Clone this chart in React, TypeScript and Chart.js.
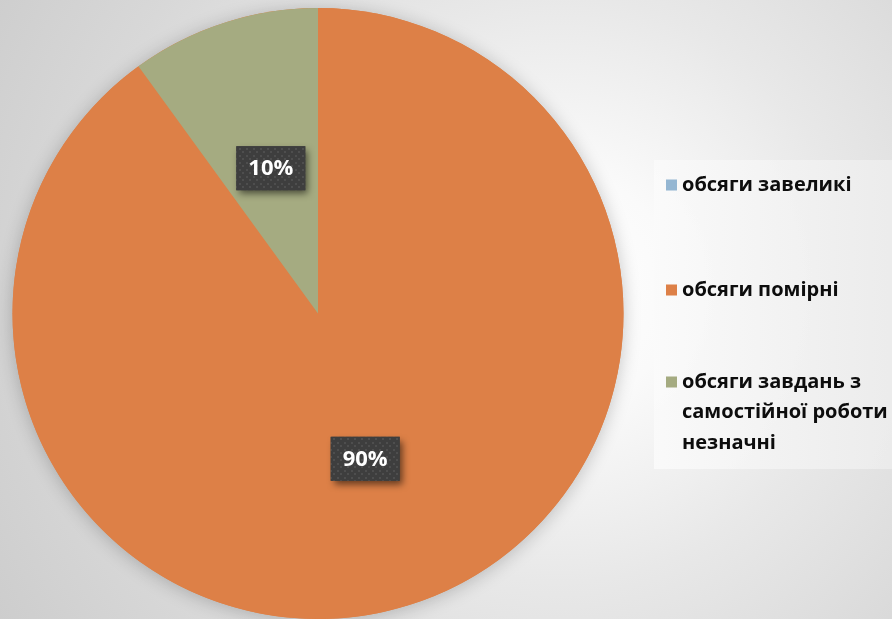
import React, { useEffect, useRef } from "react";
import { Chart, registerables } from "chart.js";

Chart.register(...registerables);

const categories: string[] = [
  "обсяги завеликі",
  "обсяги помірні",
  "обсяги завдань з самостійної роботи незначні",
];
const seriesValues: number[] = [0, 90, 10];
const sliceColors: string[] = ["#94B6D2", "#DD8047", "#A5AB81"];

const FONT = "'Open Sans', 'Noto Sans', 'DejaVu Sans', sans-serif";

function wrapText(ctx: CanvasRenderingContext2D, text: string, maxW: number): string[] {
  const words = text.split(" ");
  const lines: string[] = [];
  let cur = "";
  for (const w of words) {
    const test = cur ? cur + " " + w : w;
    if (ctx.measureText(test).width > maxW && cur) {
      lines.push(cur);
      cur = w;
    } else {
      cur = test;
    }
  }
  if (cur) lines.push(cur);
  return lines;
}

const pieShadowPlugin = {
  id: "pieShadow",
  beforeDatasetsDraw(chart: any) {
    const meta = chart.getDatasetMeta(0);
    const arc = meta.data[0];
    if (!arc) return;
    const ctx: CanvasRenderingContext2D = chart.ctx;
    ctx.save();
    ctx.shadowColor = "rgba(0,0,0,0.22)";
    ctx.shadowBlur = 18;
    ctx.shadowOffsetX = 0;
    ctx.shadowOffsetY = 2;
    ctx.fillStyle = sliceColors[1];
    ctx.beginPath();
    ctx.arc(arc.x, arc.y, arc.outerRadius, 0, Math.PI * 2);
    ctx.fill();
    ctx.restore();
  },
};

let patternCache: CanvasPattern | null = null;
function getPattern(ctx: CanvasRenderingContext2D): CanvasPattern | string {
  if (patternCache) return patternCache;
  const c = document.createElement("canvas");
  c.width = 7;
  c.height = 7;
  const p = c.getContext("2d");
  if (!p) return "#3f3f3f";
  p.fillStyle = "#3e3e3e";
  p.fillRect(0, 0, 7, 7);
  p.fillStyle = "#4e4e4e";
  p.fillRect(1, 1, 2, 2);
  p.fillRect(4, 4, 2, 2);
  const pat = ctx.createPattern(c, "repeat");
  patternCache = pat;
  return pat || "#3f3f3f";
}

const dataLabelPlugin = {
  id: "boxLabels",
  afterDatasetsDraw(chart: any) {
    const ctx: CanvasRenderingContext2D = chart.ctx;
    const ds = chart.data.datasets[0];
    const vals: number[] = ds.data as number[];
    const total = vals.reduce((a, b) => a + b, 0);
    const meta = chart.getDatasetMeta(0);
    ctx.save();
    ctx.font = `bold 22px ${FONT}`;
    meta.data.forEach((el: any, i: number) => {
      const v = vals[i];
      if (!v) return;
      const pos = el.tooltipPosition(false);
      const text = `${Math.round((v / total) * 100)}%`;
      const tw = ctx.measureText(text).width;
      const w = tw + 24;
      const h = 44;
      const x = pos.x - w / 2;
      const y = pos.y - h / 2;
      ctx.save();
      ctx.shadowColor = "rgba(0,0,0,0.55)";
      ctx.shadowBlur = 7;
      ctx.shadowOffsetX = 3;
      ctx.shadowOffsetY = 4;
      ctx.fillStyle = "#3e3e3e";
      ctx.fillRect(x, y, w, h);
      ctx.restore();
      ctx.fillStyle = getPattern(ctx);
      ctx.fillRect(x, y, w, h);
      ctx.fillStyle = "#ffffff";
      ctx.textAlign = "center";
      ctx.textBaseline = "middle";
      ctx.fillText(text, pos.x, pos.y + 1);
    });
    ctx.restore();
  },
};

const sideLegendPlugin = {
  id: "sideLegend",
  afterDraw(chart: any) {
    const ctx: CanvasRenderingContext2D = chart.ctx;
    const labels: string[] = chart.data.labels as string[];
    const colors: string[] = chart.data.datasets[0].backgroundColor as string[];
    const boxX = 654;
    const boxY = 160;
    const boxW = 238;
    const boxH = 309;
    ctx.save();
    const g = ctx.createLinearGradient(boxX, 0, boxX + boxW, 0);
    g.addColorStop(0, "rgba(250,250,250,0.9)");
    g.addColorStop(1, "rgba(236,236,236,0.9)");
    ctx.fillStyle = g;
    ctx.fillRect(boxX, boxY, boxW, boxH);

    ctx.font = `bold 20px ${FONT}`;
    ctx.textBaseline = "middle";
    ctx.textAlign = "left";
    const itemCenters = [185, 290, 382];
    const lineH = 30.5;
    labels.forEach((lab, i) => {
      const cy = itemCenters[i];
      ctx.fillStyle = colors[i];
      ctx.fillRect(666, cy - 5.5, 11, 11);
      ctx.fillStyle = "#0d0d0d";
      const lines = wrapText(ctx, lab, 212);
      lines.forEach((ln, j) => {
        ctx.fillText(ln, 682, cy + j * lineH);
      });
    });
    ctx.restore();
  },
};

export default function App() {
  const canvasRef = useRef<HTMLCanvasElement | null>(null);

  useEffect(() => {
    const canvas = canvasRef.current;
    if (!canvas) return;
    const chart = new Chart(canvas, {
      type: "pie",
      data: {
        labels: categories,
        datasets: [
          {
            data: seriesValues,
            backgroundColor: sliceColors,
            borderWidth: 0,
          },
        ],
      },
      options: {
        responsive: false,
        animation: false,
        devicePixelRatio: 1,
        layout: { padding: { left: 12, right: 268, top: 8, bottom: 0 } },
        plugins: {
          legend: { display: false },
          tooltip: { enabled: false },
        },
      },
      plugins: [pieShadowPlugin, dataLabelPlugin, sideLegendPlugin],
    });
    return () => chart.destroy();
  }, []);

  return (
    <div
      style={{
        position: "fixed",
        left: 0,
        top: 0,
        width: 892,
        height: 619,
        overflow: "hidden",
        background:
          "radial-gradient(circle at 560px 290px, #ffffff 0%, #fafafa 18%, #e8e8e8 45%, #d8d8d8 75%, #cdcdcd 100%)",
      }}
    >
      <canvas ref={canvasRef} width={892} height={619} style={{ display: "block" }} />
    </div>
  );
}
